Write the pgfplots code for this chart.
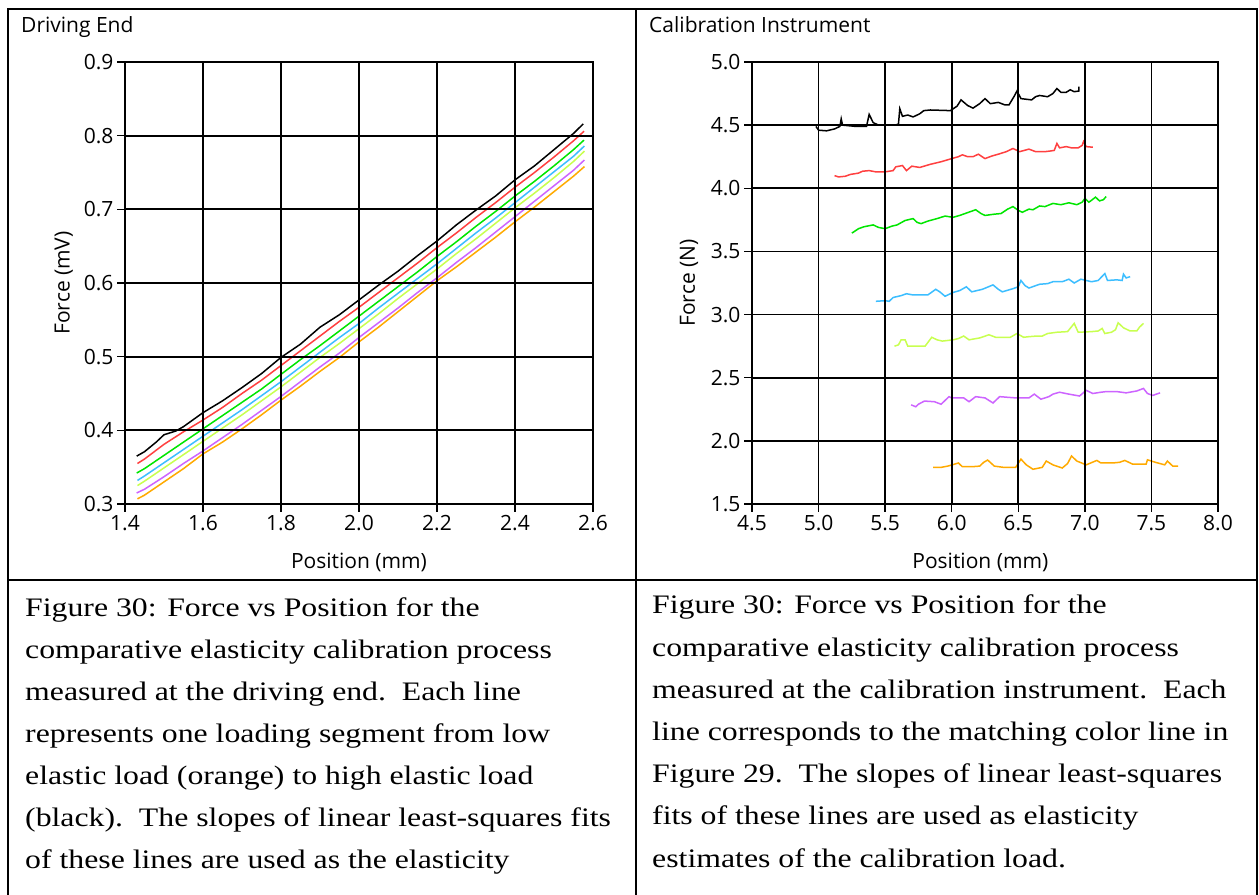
\documentclass[border=0pt]{standalone}
\usepackage{fontspec}
\setmainfont{Liberation Serif}[FakeStretch=1.19]
\newfontfamily\chartfont{Open Sans}
\usepackage{pgfplots}
\usepackage{pgfplotstable}
\pgfplotsset{compat=1.18}

\definecolor{cRed}{RGB}{255,64,64}
\definecolor{cGreen}{RGB}{0,230,0}
\definecolor{cBlue}{RGB}{60,190,255}
\definecolor{cLime}{RGB}{200,255,80}
\definecolor{cViolet}{RGB}{205,100,255}
\definecolor{cOrange}{RGB}{255,170,0}

% ---------- Driving End ----------
\pgfplotstableread{
x y
1.430 0.365
1.450 0.371
1.480 0.384
1.500 0.394
1.530 0.399
1.550 0.405
1.600 0.424
1.650 0.440
1.700 0.458
1.750 0.477
1.800 0.499
1.850 0.517
1.900 0.540
1.950 0.557
2.000 0.577
2.050 0.597
2.100 0.616
2.150 0.637
2.200 0.657
2.250 0.679
2.300 0.699
2.350 0.718
2.400 0.740
2.450 0.759
2.500 0.781
2.550 0.803
2.575 0.816
}\deBlack
\pgfplotstableread{
x y
1.432 0.355
1.450 0.361
1.500 0.381
1.550 0.398
1.600 0.414
1.650 0.431
1.700 0.450
1.750 0.468
1.800 0.488
1.850 0.508
1.900 0.528
1.950 0.548
2.000 0.567
2.050 0.587
2.100 0.607
2.150 0.627
2.200 0.648
2.250 0.668
2.300 0.689
2.350 0.709
2.400 0.730
2.450 0.750
2.500 0.771
2.550 0.793
2.577 0.806
}\deRed
\pgfplotstableread{
x y
1.430 0.342
1.450 0.348
1.500 0.366
1.550 0.384
1.600 0.402
1.650 0.420
1.700 0.438
1.750 0.456
1.800 0.476
1.850 0.496
1.900 0.515
1.950 0.535
2.000 0.555
2.050 0.575
2.100 0.595
2.150 0.615
2.200 0.636
2.250 0.656
2.300 0.677
2.350 0.697
2.400 0.718
2.450 0.738
2.500 0.759
2.550 0.781
2.577 0.794
}\deGreen
\pgfplotstableread{
x y
1.432 0.332
1.450 0.338
1.500 0.356
1.550 0.374
1.600 0.392
1.650 0.410
1.700 0.428
1.750 0.447
1.800 0.466
1.850 0.486
1.900 0.506
1.950 0.526
2.000 0.545
2.050 0.566
2.100 0.586
2.150 0.606
2.200 0.626
2.250 0.647
2.300 0.668
2.350 0.688
2.400 0.709
2.450 0.730
2.500 0.751
2.550 0.772
2.578 0.786
}\deBlue
\pgfplotstableread{
x y
1.432 0.325
1.450 0.331
1.500 0.349
1.550 0.367
1.600 0.385
1.650 0.403
1.700 0.421
1.750 0.440
1.800 0.459
1.850 0.479
1.900 0.499
1.950 0.518
2.000 0.538
2.050 0.558
2.100 0.579
2.150 0.599
2.200 0.619
2.250 0.640
2.300 0.660
2.350 0.681
2.400 0.702
2.450 0.722
2.500 0.743
2.550 0.765
2.578 0.779
}\deLime
\pgfplotstableread{
x y
1.430 0.315
1.450 0.320
1.500 0.337
1.550 0.355
1.600 0.372
1.650 0.390
1.700 0.408
1.750 0.427
1.800 0.446
1.850 0.466
1.900 0.486
1.950 0.505
2.000 0.526
2.050 0.546
2.100 0.566
2.150 0.587
2.200 0.607
2.250 0.628
2.300 0.648
2.350 0.669
2.400 0.690
2.450 0.711
2.500 0.732
2.550 0.753
2.578 0.767
}\deViolet
\pgfplotstableread{
x y
1.432 0.307
1.450 0.312
1.500 0.330
1.550 0.348
1.600 0.368
1.650 0.384
1.700 0.402
1.750 0.421
1.800 0.441
1.850 0.460
1.900 0.480
1.950 0.499
2.000 0.520
2.050 0.540
2.100 0.561
2.150 0.582
2.200 0.603
2.250 0.622
2.300 0.642
2.350 0.662
2.400 0.683
2.450 0.703
2.500 0.724
2.550 0.745
2.578 0.758
}\deOrange

% ---------- Calibration Instrument ----------
\pgfplotstableread{
x y
4.98 4.49
5.00 4.46
5.06 4.455
5.12 4.47
5.16 4.49
5.17 4.55
5.18 4.50
5.28 4.49
5.36 4.49
5.38 4.585
5.41 4.52
5.45 4.50
5.58 4.50
5.60 4.51
5.61 4.63
5.63 4.57
5.67 4.58
5.71 4.565
5.76 4.59
5.79 4.615
5.84 4.62
5.99 4.615
6.04 4.65
6.07 4.70
6.12 4.655
6.16 4.635
6.21 4.67
6.25 4.71
6.29 4.67
6.35 4.68
6.40 4.66
6.43 4.66
6.47 4.73
6.49 4.77
6.52 4.71
6.60 4.70
6.63 4.725
6.66 4.735
6.72 4.725
6.76 4.75
6.79 4.79
6.82 4.76
6.86 4.76
6.89 4.78
6.92 4.765
6.955 4.77
6.955 4.805
}\ciBlack
\pgfplotstableread{
x y
5.12 4.10
5.15 4.09
5.20 4.095
5.24 4.11
5.30 4.12
5.33 4.135
5.38 4.14
5.43 4.13
5.50 4.13
5.56 4.14
5.58 4.17
5.63 4.18
5.66 4.14
5.70 4.175
5.76 4.165
5.84 4.19
5.92 4.21
6.00 4.235
6.05 4.25
6.08 4.265
6.12 4.25
6.16 4.25
6.20 4.27
6.25 4.235
6.30 4.255
6.35 4.27
6.41 4.29
6.46 4.315
6.51 4.29
6.58 4.31
6.63 4.29
6.70 4.29
6.74 4.295
6.77 4.30
6.79 4.355
6.81 4.32
6.86 4.33
6.90 4.32
6.95 4.32
6.98 4.34
6.99 4.37
7.01 4.33
7.06 4.325
}\ciRed
\pgfplotstableread{
x y
5.25 3.645
5.30 3.68
5.34 3.695
5.41 3.71
5.45 3.69
5.50 3.68
5.55 3.70
5.59 3.71
5.65 3.745
5.71 3.76
5.74 3.73
5.77 3.72
5.82 3.74
5.89 3.76
5.95 3.78
6.01 3.77
6.06 3.785
6.10 3.80
6.18 3.83
6.22 3.80
6.25 3.785
6.32 3.795
6.37 3.80
6.42 3.835
6.46 3.855
6.50 3.825
6.53 3.81
6.58 3.835
6.61 3.83
6.66 3.86
6.70 3.855
6.76 3.88
6.82 3.87
6.88 3.885
6.94 3.87
6.98 3.89
7.00 3.92
7.03 3.89
7.05 3.905
7.08 3.93
7.11 3.90
7.14 3.91
7.16 3.935
}\ciGreen
\pgfplotstableread{
x y
5.43 3.105
5.50 3.11
5.53 3.105
5.56 3.135
5.62 3.15
5.66 3.165
5.71 3.155
5.82 3.155
5.88 3.20
5.91 3.18
5.95 3.145
6.01 3.175
6.06 3.19
6.11 3.22
6.15 3.18
6.23 3.20
6.31 3.235
6.35 3.20
6.38 3.18
6.46 3.205
6.50 3.22
6.52 3.27
6.55 3.23
6.58 3.21
6.66 3.24
6.72 3.245
6.76 3.26
6.83 3.26
6.88 3.28
6.92 3.25
6.97 3.28
7.05 3.26
7.10 3.27
7.15 3.325
7.17 3.27
7.24 3.275
7.28 3.27
7.29 3.32
7.31 3.29
7.34 3.30
}\ciBlue
\pgfplotstableread{
x y
5.57 2.75
5.60 2.76
5.62 2.80
5.65 2.80
5.67 2.75
5.80 2.75
5.85 2.82
5.89 2.80
5.93 2.79
6.01 2.80
6.05 2.81
6.09 2.83
6.13 2.80
6.21 2.815
6.28 2.84
6.33 2.82
6.44 2.82
6.49 2.85
6.54 2.82
6.58 2.825
6.64 2.83
6.68 2.83
6.72 2.85
6.79 2.86
6.87 2.865
6.92 2.93
6.95 2.86
7.05 2.865
7.10 2.87
7.13 2.89
7.15 2.85
7.20 2.86
7.23 2.88
7.25 2.935
7.29 2.895
7.34 2.87
7.39 2.87
7.41 2.90
7.44 2.93
}\ciLime
\pgfplotstableread{
x y
5.695 2.285
5.73 2.27
5.75 2.29
5.795 2.315
5.87 2.31
5.92 2.29
5.98 2.35
6.00 2.34
6.09 2.34
6.13 2.31
6.18 2.35
6.25 2.34
6.31 2.30
6.36 2.35
6.48 2.34
6.58 2.34
6.62 2.37
6.67 2.33
6.73 2.35
6.76 2.37
6.81 2.385
6.88 2.37
6.96 2.355
7.01 2.40
7.06 2.375
7.12 2.385
7.16 2.39
7.24 2.39
7.31 2.38
7.39 2.395
7.44 2.415
7.47 2.375
7.51 2.36
7.565 2.38
}\ciViolet
\pgfplotstableread{
x y
5.86 1.79
5.92 1.79
5.97 1.80
6.02 1.815
6.05 1.825
6.08 1.795
6.15 1.795
6.21 1.80
6.24 1.83
6.27 1.848
6.32 1.80
6.39 1.79
6.48 1.79
6.52 1.855
6.56 1.81
6.61 1.775
6.68 1.79
6.71 1.84
6.76 1.81
6.83 1.785
6.87 1.82
6.90 1.88
6.94 1.84
7.01 1.81
7.09 1.845
7.12 1.825
7.21 1.825
7.26 1.83
7.30 1.845
7.36 1.815
7.46 1.815
7.47 1.85
7.53 1.83
7.60 1.81
7.62 1.84
7.66 1.80
7.70 1.80
}\ciOrange

\pgfplotsset{
  labview/.style={
    scale only axis,
    height=442bp,
    axis on top,
    grid=major,
    grid style={black, line width=1.7bp},
    axis line style={black, line width=2.2bp},
    tick align=outside,
    major tick length=8bp,
    tick style={black, line width=1.5bp},
    tick pos=left,
    ticklabel style={font=\chartfont\fontsize{21bp}{25bp}\selectfont},
    label style={font=\chartfont\fontsize{21bp}{25bp}\selectfont},
    /pgf/number format/assume math mode=true,
    xticklabel style={/pgf/number format/fixed, /pgf/number format/fixed zerofill, /pgf/number format/precision=1, /pgf/number format/assume math mode=true},
    yticklabel style={/pgf/number format/fixed, /pgf/number format/fixed zerofill, /pgf/number format/precision=1, /pgf/number format/assume math mode=true},
    every axis plot/.append style={line width=1.5bp, no markers},
    xlabel style={at={(axis description cs:0.5,-0.145)}, anchor=base},
  }
}

\begin{document}
\begin{tikzpicture}
\useasboundingbox (0,0) rectangle (1259bp,895bp);
\fill[white] (0,0) rectangle (1259bp,895bp);

% Left chart
\begin{axis}[labview,
  at={(125bp,391bp)}, anchor=south west,
  width=468bp,
  xmin=1.4, xmax=2.6, ymin=0.3, ymax=0.9,
  xtick={1.4,1.6,1.8,2.0,2.2,2.4,2.6},
  ytick={0.3,0.4,0.5,0.6,0.7,0.8,0.9},
  xlabel={Position (mm)}, ylabel={Force (mV)},
  ylabel style={at={(axis description cs:-0.131,0.5)}, anchor=center},
]
\addplot[cOrange] table {\deOrange};
\addplot[cViolet] table {\deViolet};
\addplot[cLime] table {\deLime};
\addplot[cBlue] table {\deBlue};
\addplot[cGreen] table {\deGreen};
\addplot[cRed] table {\deRed};
\addplot[black] table {\deBlack};
\end{axis}

% Right chart
\begin{axis}[labview,
  at={(752bp,391bp)}, anchor=south west,
  width=466bp,
  xmin=4.5, xmax=8, ymin=1.5, ymax=5,
  xtick={4.5,5.0,5.5,6.0,6.5,7.0,7.5,8.0},
  ytick={1.5,2.0,2.5,3.0,3.5,4.0,4.5,5.0},
  xlabel={Position (mm)}, ylabel={Force (N)},
  xlabel style={at={(axis description cs:0.49,-0.145)}, anchor=base},
  ylabel style={at={(axis description cs:-0.135,0.5)}, anchor=center},
]
\addplot[cOrange] table {\ciOrange};
\addplot[cViolet] table {\ciViolet};
\addplot[cLime] table {\ciLime};
\addplot[cBlue] table {\ciBlue};
\addplot[cGreen] table {\ciGreen};
\addplot[cRed] table {\ciRed};
\addplot[black] table {\ciBlack};
\end{axis}

% Titles
\node[anchor=base west, inner sep=0, font=\chartfont\fontsize{21bp}{25bp}\selectfont] at (21bp,862bp) {Driving End};
\node[anchor=base west, inner sep=0, font=\chartfont\fontsize{21bp}{25bp}\selectfont] at (649bp,862bp) {Calibration Instrument};

% Table borders
\draw[black, line width=2.5bp, line cap=rect]
  (8bp,0) -- (8bp,886bp) -- (1257bp,886bp) -- (1257bp,0);
\draw[black, line width=2.5bp] (636bp,0) -- (636bp,886bp);
\draw[black, line width=2.5bp] (8bp,315bp) -- (1257bp,315bp);

% Captions
\begin{scope}[every node/.style={anchor=base west, inner sep=0, font=\fontsize{26.7bp}{32bp}\selectfont}]
\node at (25bp,278bp) {Figure 30: Force vs Position for the};
\node at (25bp,236bp) {comparative elasticity calibration process};
\node at (25bp,194bp) {measured at the driving end.\ \ Each line};
\node at (25bp,152bp) {represents one loading segment from low};
\node at (25bp,110bp) {elastic load (orange) to high elastic load};
\node at (25bp,68bp) {(black).\ \ The slopes of linear least-squares fits};
\node at (25bp,27bp) {of these lines are used as the elasticity};

\node at (652bp,281bp) {Figure 30: Force vs Position for the};
\node at (652bp,238bp) {comparative elasticity calibration process};
\node at (652bp,196bp) {measured at the calibration instrument.\ \ Each};
\node at (652bp,154bp) {line corresponds to the matching color line in};
\node at (652bp,112bp) {Figure 29.\ \ The slopes of linear least-squares};
\node at (652bp,70bp) {fits of these lines are used as elasticity};
\node at (652bp,28bp) {estimates of the calibration load.};
\end{scope}
\end{tikzpicture}
\end{document}
